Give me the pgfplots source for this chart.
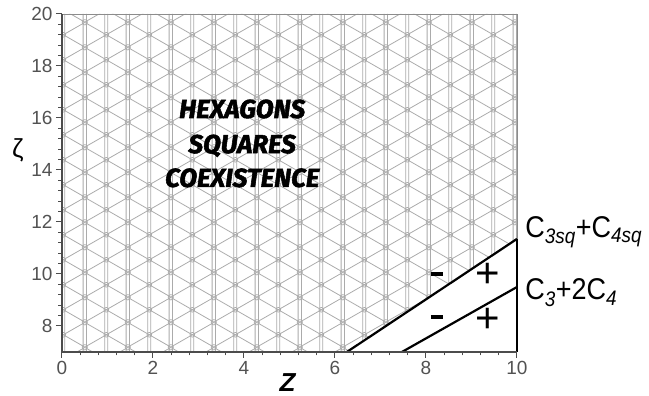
\documentclass[border=0pt]{standalone}
\usepackage{fontspec}
\setmainfont{Liberation Sans}
\newfontfamily\brush{Fira Sans}[BoldItalicFeatures={FakeBold=2}]
\usepackage{pgfplots}
\pgfplotsset{compat=1.18}
\usetikzlibrary{patterns.meta}

% triangular lattice: doubled vertical lines and +/-30 degree lines
\tikzdeclarepattern{
  name=trilattice,
  type=uncolored,
  bounding box={(0pt,0pt) and (42.8pt,24.71pt)},
  tile size={(42.8pt,24.71pt)},
  code={
    \draw[line width=0.8pt]
      (1.5pt,-1pt)--(1.5pt,26pt) (41.3pt,-1pt)--(41.3pt,26pt)
      (19.9pt,-1pt)--(19.9pt,26pt) (22.9pt,-1pt)--(22.9pt,26pt);
    \draw[line width=0.8pt] (-21.4pt,-12.355pt)--(64.2pt,37.065pt);
    \draw[line width=0.8pt] (-21.4pt,37.065pt)--(64.2pt,-12.355pt);
    \draw[line width=0.7pt] (21.4pt,12.355pt) circle (2.4pt)
      (0pt,0pt) circle (2.4pt) (42.8pt,0pt) circle (2.4pt)
      (0pt,24.71pt) circle (2.4pt) (42.8pt,24.71pt) circle (2.4pt);
  }
}

\newcommand\ticksize{\fontsize{19}{19}\selectfont}

\begin{document}
\begin{tikzpicture}
\useasboundingbox (-62pt,-44pt) rectangle (587pt,352pt);
\begin{axis}[
  at={(0pt,0pt)}, anchor=south west,
  scale only axis, width=455pt, height=338pt,
  xmin=0, xmax=10, ymin=7, ymax=20,
  xtick={0,2,...,10}, ytick={8,10,...,20},
  minor x tick num=4, minor y tick num=4,
  tick align=outside, tick pos=left,
  major tick length=6pt, minor tick length=3.5pt,
  every tick/.style={black!70, line width=1pt},
  axis x line*=bottom, axis y line*=left,
  axis line style={black!70, line width=1.6pt, -},
  /pgf/number format/assume math mode=true,
  xticklabel style={font=\ticksize, text=black!68},
  yticklabel style={font=\ticksize, text=black!68},
  xticklabel={\ticksize\pgfmathprintnumber{\tick}},
  yticklabel={\ticksize\pgfmathprintnumber{\tick}},
  axis on top,
  clip=false,
]
% region where hexagons and squares coexist
\addplot[draw=none, pattern=trilattice, pattern color=black!33]
  coordinates {(0,7) (6.26,7) (10,11.35) (10,20) (0,20)};
% frame continuation
\addplot[black!45, line width=0.8pt] coordinates {(0,20) (10,20) (10,11.35)};
\addplot[black, line width=1.4pt] coordinates {(10,7) (10,11.35)};
% stability boundaries
\addplot[black, line width=2.2pt] coordinates {(6.26,7) (10,11.35)};
\addplot[black, line width=2.2pt] coordinates {(7.47,7) (10,9.5)};

\node[anchor=base west, inner sep=0pt, font=\fontsize{30}{30}\selectfont, xscale=0.9]
  at (axis cs:10.18,11.42) {C\textsubscript{\itshape 3sq}+C\textsubscript{\itshape 4sq}};
\node[anchor=base west, inner sep=0pt, font=\fontsize{30}{30}\selectfont, xscale=0.9]
  at (axis cs:10.18,9.0) {C\textsubscript{\itshape 3}+2C\textsubscript{\itshape 4}};

\node[inner sep=0pt] at (axis cs:8.24,10.0) {\rule{12pt}{4pt}};
\node[inner sep=0pt] at (axis cs:8.24,8.35) {\rule{12pt}{4pt}};
\node[inner sep=0pt, font=\fontsize{42}{42}\selectfont] at (axis cs:9.36,9.96) {+};
\node[inner sep=0pt, font=\fontsize{42}{42}\selectfont] at (axis cs:9.36,8.23) {+};

\node[anchor=base, font=\brush\bfseries\itshape\fontsize{26}{26}\selectfont]
  at (axis cs:3.96,16.0) {HEXAGONS};
\node[anchor=base, font=\brush\bfseries\itshape\fontsize{26}{26}\selectfont]
  at (axis cs:3.96,14.65) {SQUARES};
\node[anchor=base, font=\brush\bfseries\itshape\fontsize{26}{26}\selectfont]
  at (axis cs:3.96,13.35) {COEXISTENCE};

\node[font=\fontsize{26}{26}\selectfont] at (axis cs:-0.97,14.77) {ζ};
\node[anchor=base, yshift=-40pt, font=\fontsize{26}{26}\selectfont\bfseries\itshape]
  at (axis cs:4.96,7) {Z};
\end{axis}
\end{tikzpicture}
\end{document}
